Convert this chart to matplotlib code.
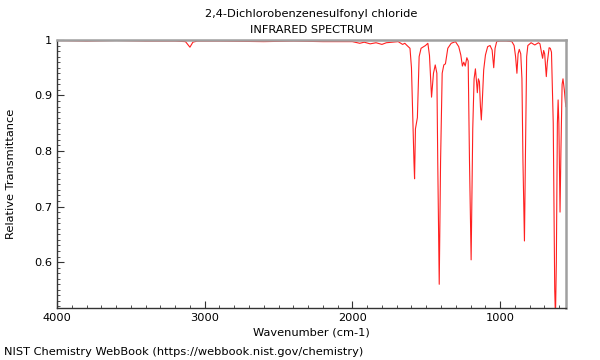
import matplotlib
matplotlib.use("Agg")
import matplotlib.pyplot as plt
from matplotlib.ticker import MultipleLocator

# spectrum (wavenumber, relative transmittance)
wavenumber = [4000, 3800, 3600, 3400, 3200, 3130, 3100, 3080, 3050, 2900, 2600, 2400,
              2200, 2000, 1950, 1920, 1880, 1840, 1800, 1770, 1730, 1690, 1660, 1645,
              1630, 1610, 1600, 1590, 1583, 1579, 1573, 1560, 1548, 1535, 1505, 1489,
              1478, 1464, 1451, 1439, 1428, 1422, 1412, 1403, 1392, 1381, 1370, 1354,
              1331, 1302, 1280, 1266, 1255, 1246, 1236, 1225, 1216, 1207, 1196, 1185,
              1176, 1167, 1158, 1154, 1147, 1140, 1133, 1127, 1120, 1111, 1099, 1084,
              1068, 1054, 1043, 1034, 1023, 1000, 960, 920, 905, 895, 886, 878, 870,
              860, 852, 845, 835, 828, 820, 812, 790, 765, 740, 730, 718, 712, 705,
              698, 687, 680, 668, 660, 652, 640, 630, 625, 619, 612, 607, 602, 594,
              588, 580, 574, 565, 555]
transmittance = [0.999, 0.998, 0.999, 0.998, 0.998, 0.997, 0.987, 0.996, 0.998, 0.998, 0.997, 0.998,
                 0.997, 0.997, 0.994, 0.996, 0.993, 0.995, 0.992, 0.995, 0.996, 0.997, 0.992, 0.994,
                 0.990, 0.985, 0.95, 0.85, 0.78, 0.75, 0.84, 0.86, 0.97, 0.985, 0.99, 0.994,
                 0.972, 0.897, 0.94, 0.955, 0.94, 0.78, 0.56, 0.78, 0.94, 0.955, 0.957, 0.985,
                 0.994, 0.997, 0.988, 0.973, 0.953, 0.96, 0.953, 0.968, 0.962, 0.78, 0.604, 0.84,
                 0.93, 0.948, 0.92, 0.905, 0.93, 0.925, 0.88, 0.856, 0.892, 0.946, 0.973, 0.988,
                 0.99, 0.982, 0.95, 0.985, 0.997, 0.998, 0.998, 0.997, 0.99, 0.97, 0.94, 0.975, 0.983,
                 0.975, 0.93, 0.78, 0.638, 0.80, 0.97, 0.99, 0.995, 0.991, 0.995, 0.993, 0.975, 0.967, 0.981,
                 0.975, 0.934, 0.96, 0.986, 0.985, 0.978, 0.85, 0.55, 0.50, 0.60, 0.85, 0.892, 0.85, 0.69,
                 0.80, 0.92, 0.93, 0.91, 0.88]

x_ticks = [4000, 3000, 2000, 1000]
x_labels = ["4000", "3000", "2000", "1000"]
y_ticks = [0.6, 0.7, 0.8, 0.9, 1.0]
y_labels = ["0.6", "0.7", "0.8", "0.9", "1"]

fs = 8.2

fig = plt.figure(figsize=(6, 3.6), dpi=100)
ax = fig.add_axes([0.095, 0.144, 0.848, 0.745])

ax.plot(wavenumber, transmittance, color="#ff2020", lw=0.8)

ax.set_xlim(4000, 555)
ax.set_ylim(0.517, 1.0)
ax.set_xticks(x_ticks)
ax.set_xticklabels(x_labels)
ax.set_yticks(y_ticks)
ax.set_yticklabels(y_labels)
ax.xaxis.set_minor_locator(MultipleLocator(100))
ax.yaxis.set_minor_locator(MultipleLocator(0.01))
ax.tick_params(direction="in", labelsize=fs, length=5, width=0.8, color="#333333")
ax.tick_params(which="minor", direction="in", length=2.5, width=0.6, color="#333333")

for side in ["top", "right"]:
    ax.spines[side].set_color("#a0a0a0")
    ax.spines[side].set_linewidth(1.8)
for side in ["left", "bottom"]:
    ax.spines[side].set_color("#333333")
    ax.spines[side].set_linewidth(1.0)

ax.set_xlabel("Wavenumber (cm-1)", fontsize=fs, labelpad=3)
ax.set_ylabel("Relative Transmittance", fontsize=fs, labelpad=13)
ax.set_title("2,4-Dichlorobenzenesulfonyl chloride\nINFRARED SPECTRUM", fontsize=fs,
             linespacing=1.75, pad=5)
fig.text(0.007, 0.015, "NIST Chemistry WebBook (https://webbook.nist.gov/chemistry)",
         fontsize=fs, ha="left", va="baseline")

fig.savefig("out.png", dpi=100)
